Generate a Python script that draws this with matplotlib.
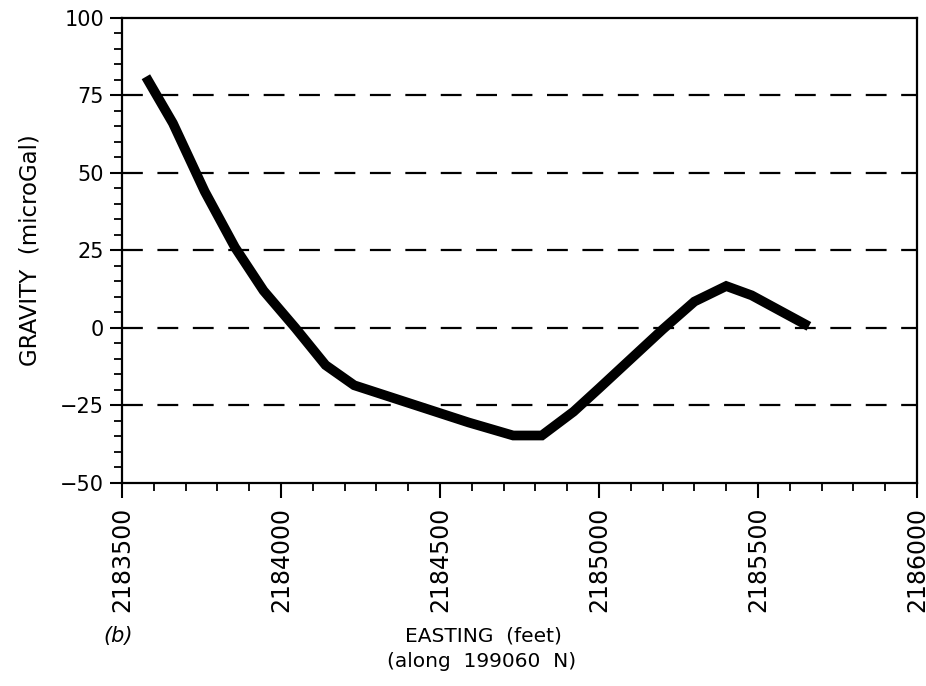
import matplotlib

matplotlib.use("Agg")
import matplotlib.pyplot as plt
from matplotlib.ticker import MultipleLocator

plt.rcParams["font.family"] = "DejaVu Sans"
plt.rcParams["axes.unicode_minus"] = False

# Schwereprofil entlang 199060 N
easting = [2183575, 2183660, 2183760, 2183855, 2183945, 2184045, 2184140,
           2184230, 2184320, 2184410, 2184500, 2184590, 2184730, 2184820,
           2184920, 2185000, 2185100, 2185200, 2185300, 2185400, 2185480,
           2185660]
gravity = [81, 66, 44, 26, 12, 0, -12, -18.5, -21.5, -24.5, -27.5, -30.5,
           -34.7, -34.7, -27, -19.5, -10, -0.5, 8.5, 13.5, 10.5, 0.5]

grid_levels = [75, 50, 25, 0, -25]
x_ticks = [2183500, 2184000, 2184500, 2185000, 2185500, 2186000]
y_ticks = [-50, -25, 0, 25, 50, 75, 100]

fig = plt.figure(figsize=(9.26, 6.86), dpi=100)
ax = fig.add_axes([0.1318, 0.296, 0.8585, 0.678])

# gestrichelte Hilfslinien, Strichlaenge in Punkten
grid_lw = 1.6
for level in grid_levels:
    ax.axhline(level, color="black", linewidth=grid_lw,
               dashes=(15 / grid_lw, 10.5 / grid_lw), zorder=1)

ax.plot(easting, gravity, color="black", linewidth=7,
        solid_joinstyle="miter", solid_capstyle="butt", zorder=3)

ax.set_xlim(2183500, 2186000)
ax.set_ylim(-50, 100)
ax.set_xticks(x_ticks)
ax.set_xticklabels([str(v) for v in x_ticks], rotation=90, fontsize=17)
ax.set_yticks(y_ticks)
ax.set_yticklabels([str(v).replace("-", "\u2212") for v in y_ticks], fontsize=15)
ax.xaxis.set_minor_locator(MultipleLocator(100))
ax.yaxis.set_minor_locator(MultipleLocator(5))
ax.tick_params(axis="both", which="major", direction="out", width=1.5, color="black")
ax.tick_params(axis="x", which="major", length=11, pad=6)
ax.tick_params(axis="y", which="major", length=9, pad=4)
ax.tick_params(axis="both", which="minor", direction="out", length=5.5, width=1.3)

for spine in ax.spines.values():
    spine.set_linewidth(1.6)

ax.set_ylabel("GRAVITY  (microGal)", fontsize=16.5, labelpad=13)

fig.text(0.522, 0.073, "EASTING  (feet)", ha="center", va="center", fontsize=14.5)
fig.text(0.52, 0.035, "(along  199060  N)", ha="center", va="center", fontsize=14.5)
fig.text(0.128, 0.073, "(b)", ha="center", va="center", fontsize=15, style="italic")

fig.savefig("out.png", dpi=100)
plt.close(fig)
